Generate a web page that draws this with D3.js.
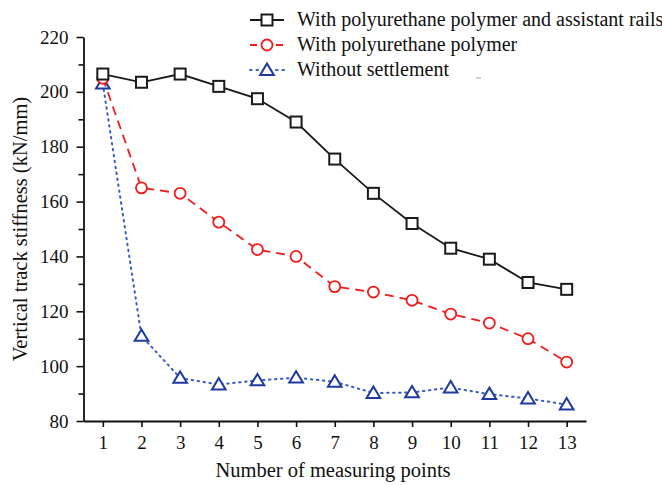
<!DOCTYPE html>
<html><head><meta charset="utf-8">
<script src="https://cdn.jsdelivr.net/npm/d3@7"></script>
<style>body{margin:0;background:#fff}svg{display:block}</style>
</head><body><svg id="c" width="662" height="485"></svg>
<script>
const points = [1,2,3,4,5,6,7,8,9,10,11,12,13];
const withRails = [206.5,203.5,206.5,202,197.5,189,175.5,163,152,143,139,130.5,128];
const withPolymer = [205,165,163,152.5,142.5,140,129,127,124,119,115.7,110,101.5];
const withoutSettlement = [203,111,95.7,93.3,94.8,95.8,94.3,90.2,90.4,92.2,89.8,88.2,86];
const yTicks = [80,100,120,140,160,180,200,220];
const seriesNames = ["With polyurethane polymer and assistant rails","With polyurethane polymer","Without settlement"];

const FONT = "'Liberation Serif','Times New Roman',serif";
const svg = d3.select("#c");
const x = d3.scaleLinear().domain([0.5,13.5]).range([83.5,586]);
const y = d3.scaleLinear().domain([80,220]).range([421,37]);

const xa = svg.append("g").attr("transform","translate(0,421)")
  .call(d3.axisBottom(x).tickValues(points).tickSize(6).tickPadding(9).tickSizeOuter(0));
const ya = svg.append("g").attr("transform","translate(83.5,0)")
  .call(d3.axisLeft(y).tickValues(d3.range(80,221,10)).tickSize(6).tickPadding(9).tickSizeOuter(0)
    .tickFormat(d => yTicks.includes(d) ? d : ""));
[xa,ya].forEach(a=>{
  a.attr("font-family",null).attr("font-size",null);
  a.selectAll("path").attr("stroke","#111").attr("stroke-width",1.8);
  a.selectAll("line").attr("stroke","#111").attr("stroke-width",1.6);
  a.selectAll("text").style("font-family",FONT).style("font-size","19px").attr("fill","#111");
});
ya.selectAll(".tick line").attr("x2",d=> yTicks.includes(d)? -7 : -5);

svg.append("text").attr("x",333).attr("y",477).attr("text-anchor","middle")
  .style("font-family",FONT).style("font-size","20.5px").attr("fill","#111").text("Number of measuring points");
svg.append("text").attr("transform","translate(27,229) rotate(-90)").attr("text-anchor","middle")
  .style("font-family",FONT).style("font-size","20.5px").attr("fill","#111").text("Vertical track stiffness (kN/mm)");

const line = d3.line().x((d,i)=>x(points[i])).y(d=>y(d));
const cfg = [
  {data:withRails, color:"#1a1a1a", dash:null, w:1.8, mk:"square"},
  {data:withPolymer, color:"#f41a1a", dash:"9,6", w:1.8, mk:"circle"},
  {data:withoutSettlement, color:"#3a5cc6", dash:"1.5,4.5", w:2, mk:"tri", mc:"#1e3a9c"}
];
function marker(g, type, cx, cy, color){
  if(type==="square"){
    g.append("rect").attr("x",cx-5.5).attr("y",cy-5.5).attr("width",11).attr("height",11)
      .attr("fill","#fff").attr("stroke",color).attr("stroke-width",2);
  } else if(type==="circle"){
    g.append("circle").attr("cx",cx).attr("cy",cy).attr("r",5.5)
      .attr("fill","#fff").attr("stroke",color).attr("stroke-width",1.8);
  } else {
    const s=6.5;
    g.append("path").attr("d",`M${cx},${cy-s}L${cx+s*1.05},${cy+s*0.75}L${cx-s*1.05},${cy+s*0.75}Z`)
      .attr("fill","#fff").attr("stroke",color).attr("stroke-width",2);
  }
}
[2,1,0].forEach(k=>{
  const c=cfg[k];
  const g=svg.append("g");
  g.append("path").datum(c.data).attr("d",line).attr("fill","none").attr("stroke",c.color)
    .attr("stroke-width",c.w).attr("stroke-dasharray",c.dash).attr("stroke-linecap",k===2?"round":"butt");
  c.data.forEach((v,i)=>marker(g,c.mk,x(points[i]),y(v),c.mc||c.color));
});

const ly=[20,45,70];
cfg.forEach((c,i)=>{
  const g=svg.append("g");
  g.append("line").attr("x1",250).attr("x2",284).attr("y1",ly[i]).attr("y2",ly[i])
    .attr("stroke",c.color).attr("stroke-width",c.w).attr("stroke-dasharray",i===1?"7,6":(i===2?"1.5,5":null))
    .attr("stroke-linecap",i===2?"round":"butt");
  marker(g,c.mk,267,ly[i],c.mc||c.color);
  g.append("text").attr("x",297).attr("y",ly[i]+6).style("font-family",FONT).style("font-size","20px")
    .attr("fill","#111").text(seriesNames[i]);
});
svg.append("line").attr("x1",476).attr("x2",481).attr("y1",78).attr("y2",78).attr("stroke","#8fa3d6").attr("stroke-width",1);
</script></body></html>
